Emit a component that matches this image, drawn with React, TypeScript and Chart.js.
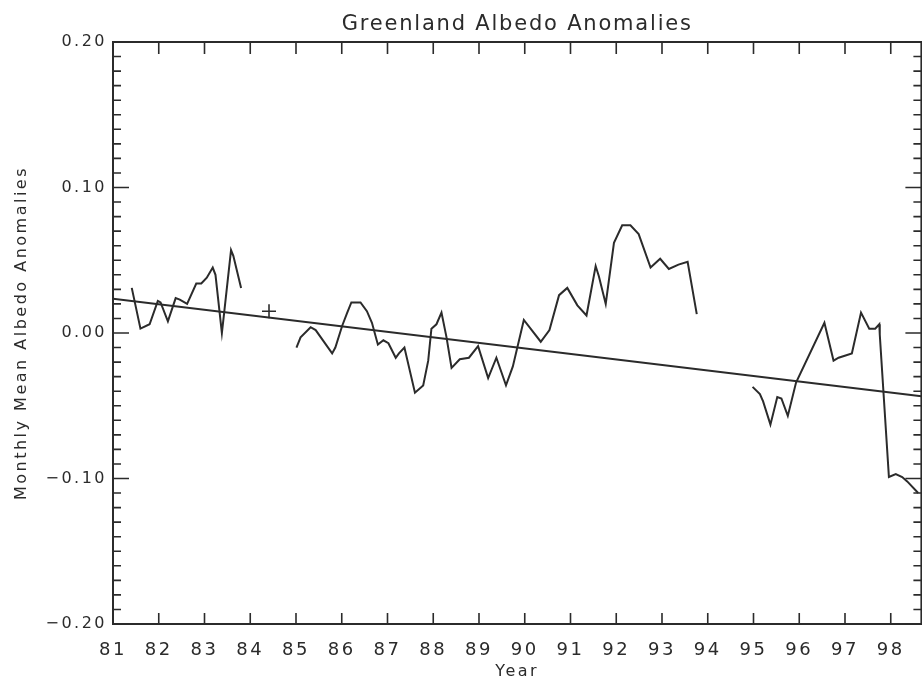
import React, { useEffect, useRef } from 'react';
import { Chart, registerables } from 'chart.js';

Chart.register(...registerables);

// ---- data (years as 19xx fractional years, monthly mean albedo anomalies) ----
const TITLE = 'Greenland Albedo Anomalies';
const X_TITLE = 'Year';
const Y_TITLE = 'Monthly Mean Albedo Anomalies';

const X_MIN = 81;
const X_MAX = 98.67;
const Y_MIN = -0.2;
const Y_MAX = 0.2;

const xTickValues = [81, 82, 83, 84, 85, 86, 87, 88, 89, 90, 91, 92, 93, 94, 95, 96, 97, 98];
const xTickLabels = ['81', '82', '83', '84', '85', '86', '87', '88', '89', '90', '91', '92', '93', '94', '95', '96', '97', '98'];
const yTickValues = [-0.2, -0.1, 0, 0.1, 0.2];
const yTickLabels = ['\u22120.20', '\u22120.10', '0.00', '0.10', '0.20'];

const seg1Years = [81.41, 81.60, 81.80, 81.98, 82.04, 82.20, 82.37, 82.46, 82.62, 82.82, 82.93, 83.05, 83.18, 83.24, 83.38, 83.43, 83.58, 83.63, 83.80];
const seg1Values = [0.031, 0.003, 0.006, 0.022, 0.021, 0.008, 0.024, 0.023, 0.020, 0.034, 0.034, 0.038, 0.045, 0.040, 0.000, 0.014, 0.057, 0.053, 0.031];

const loneYears = [84.41];
const loneValues = [0.015];

const seg2Years = [85.01, 85.10, 85.32, 85.43, 85.79, 85.86, 86.01, 86.12, 86.21, 86.41, 86.55, 86.66, 86.79, 86.91, 87.02, 87.18, 87.25, 87.37, 87.60, 87.78, 87.89, 87.96, 88.07, 88.18, 88.29, 88.40, 88.58, 88.78, 88.98, 89.20, 89.38, 89.59, 89.74, 89.83, 89.98, 90.35, 90.54, 90.75, 90.93, 91.15, 91.35, 91.55, 91.62, 91.77, 91.95, 92.13, 92.31, 92.49, 92.75, 92.96, 93.15, 93.36, 93.56, 93.76];
const seg2Values = [-0.010, -0.003, 0.004, 0.002, -0.014, -0.010, 0.005, 0.014, 0.021, 0.021, 0.015, 0.007, -0.008, -0.005, -0.007, -0.017, -0.014, -0.010, -0.041, -0.036, -0.019, 0.003, 0.006, 0.014, -0.003, -0.024, -0.018, -0.017, -0.009, -0.031, -0.017, -0.036, -0.023, -0.011, 0.009, -0.006, 0.002, 0.026, 0.031, 0.019, 0.012, 0.046, 0.039, 0.020, 0.062, 0.074, 0.074, 0.068, 0.045, 0.051, 0.044, 0.047, 0.049, 0.013];

const seg3Years = [94.98, 95.14, 95.21, 95.37, 95.52, 95.61, 95.75, 95.93, 96.55, 96.75, 96.86, 97.15, 97.35, 97.53, 97.66, 97.75, 97.76, 97.96, 98.11, 98.25, 98.36, 98.60];
const seg3Values = [-0.037, -0.042, -0.047, -0.063, -0.044, -0.045, -0.057, -0.034, 0.007, -0.019, -0.017, -0.014, 0.014, 0.003, 0.003, 0.006, -0.001, -0.099, -0.097, -0.099, -0.102, -0.110];

const trendYears = [81, 98.67];
const trendValues = [0.0235, -0.0435];

// ---- styling ----
const INK = '#2b2b2b';
const FONT = "'DejaVu Sans', sans-serif";

const toPoints = (xs: number[], ys: number[]) => xs.map((x, i) => ({ x, y: ys[i] }));

const idlFrame = {
  id: 'idlFrame',
  beforeDraw(chart: any) {
    chart.ctx.letterSpacing = '2.5px';
  },
  afterDatasetsDraw(chart: any) {
    const { ctx, chartArea } = chart;
    const { left, right, top, bottom } = chartArea;
    const xs = chart.scales.x;
    const ys = chart.scales.y;
    ctx.save();
    ctx.strokeStyle = INK;
    ctx.lineWidth = 2;
    ctx.strokeRect(left, top, right - left, bottom - top);
    ctx.lineWidth = 1.6;
    ctx.beginPath();
    for (const v of xTickValues) {
      const px = xs.getPixelForValue(v);
      ctx.moveTo(px, bottom);
      ctx.lineTo(px, bottom - 11);
      ctx.moveTo(px, top);
      ctx.lineTo(px, top + 12);
    }
    for (let k = Math.round(Y_MIN * 100); k <= Math.round(Y_MAX * 100); k++) {
      const py = ys.getPixelForValue(k / 100);
      const len = k % 10 === 0 ? 16 : 8;
      ctx.moveTo(left, py);
      ctx.lineTo(left + len, py);
      ctx.moveTo(right, py);
      ctx.lineTo(right - len, py);
    }
    ctx.stroke();
    ctx.font = `21px ${FONT}`;
    ctx.letterSpacing = '1.8px';
    ctx.fillStyle = INK;
    ctx.textAlign = 'center';
    ctx.textBaseline = 'middle';
    ctx.fillText(TITLE, (left + right) / 2, 25);
    ctx.restore();
  },
};

export default function App() {
  const ref = useRef<HTMLCanvasElement>(null);
  useEffect(() => {
    document.body.style.margin = '0';
    document.body.style.overflow = 'hidden';
    const lineStyle = {
      showLine: true,
      borderColor: INK,
      backgroundColor: INK,
      borderWidth: 2,
      pointRadius: 0,
      tension: 0,
    };
    const chart = new Chart(ref.current as HTMLCanvasElement, {
      type: 'scatter',
      data: {
        datasets: [
          { ...lineStyle, data: toPoints(seg1Years, seg1Values) },
          { ...lineStyle, data: toPoints(seg2Years, seg2Values) },
          { ...lineStyle, data: toPoints(seg3Years, seg3Values) },
          { ...lineStyle, data: toPoints(trendYears, trendValues) },
          {
            data: toPoints(loneYears, loneValues),
            showLine: false,
            pointStyle: 'cross',
            pointRadius: 7,
            borderColor: INK,
            borderWidth: 1.6,
          },
        ],
      },
      options: {
        responsive: false,
        animation: false,
        layout: { padding: { top: 42, right: 4, left: 0, bottom: 0 } },
        plugins: {
          legend: { display: false },
          tooltip: { enabled: false },
          title: { display: false },
        },
        scales: {
          x: {
            type: 'linear',
            min: X_MIN,
            max: X_MAX,
            grid: { display: false, drawTicks: false },
            border: { display: false },
            afterBuildTicks: (s: any) => {
              s.ticks = xTickValues.map((value) => ({ value }));
            },
            afterFit: (s: any) => {
              s.height = 57;
            },
            ticks: {
              autoSkip: false,
              maxRotation: 0,
              padding: 16,
              color: INK,
              font: { family: FONT, size: 18 },
              callback: (_v: any, i: number) => xTickLabels[i],
            },
            title: {
              display: true,
              text: X_TITLE,
              color: INK,
              font: { family: FONT, size: 16 },
              padding: { top: 0, bottom: 0 },
            },
          },
          y: {
            type: 'linear',
            min: Y_MIN,
            max: Y_MAX,
            grid: { display: false, drawTicks: false },
            border: { display: false },
            afterBuildTicks: (s: any) => {
              s.ticks = yTickValues.map((value) => ({ value }));
            },
            afterFit: (s: any) => {
              s.width = 113;
            },
            ticks: {
              padding: 6,
              labelOffset: 0,
              color: INK,
              font: { family: FONT, size: 16 },
              callback: (_v: any, i: number) => yTickLabels[i],
            },
            title: {
              display: true,
              text: Y_TITLE,
              color: INK,
              font: { family: FONT, size: 16 },
              padding: { top: 12, bottom: 0 },
            },
          },
        },
      },
      plugins: [idlFrame],
    } as any);
    return () => chart.destroy();
  }, []);
  return (
    <div style={{ width: 922, height: 681, overflow: 'hidden', background: '#ffffff' }}>
      <canvas ref={ref} width={930} height={681} style={{ display: 'block' }} />
    </div>
  );
}
